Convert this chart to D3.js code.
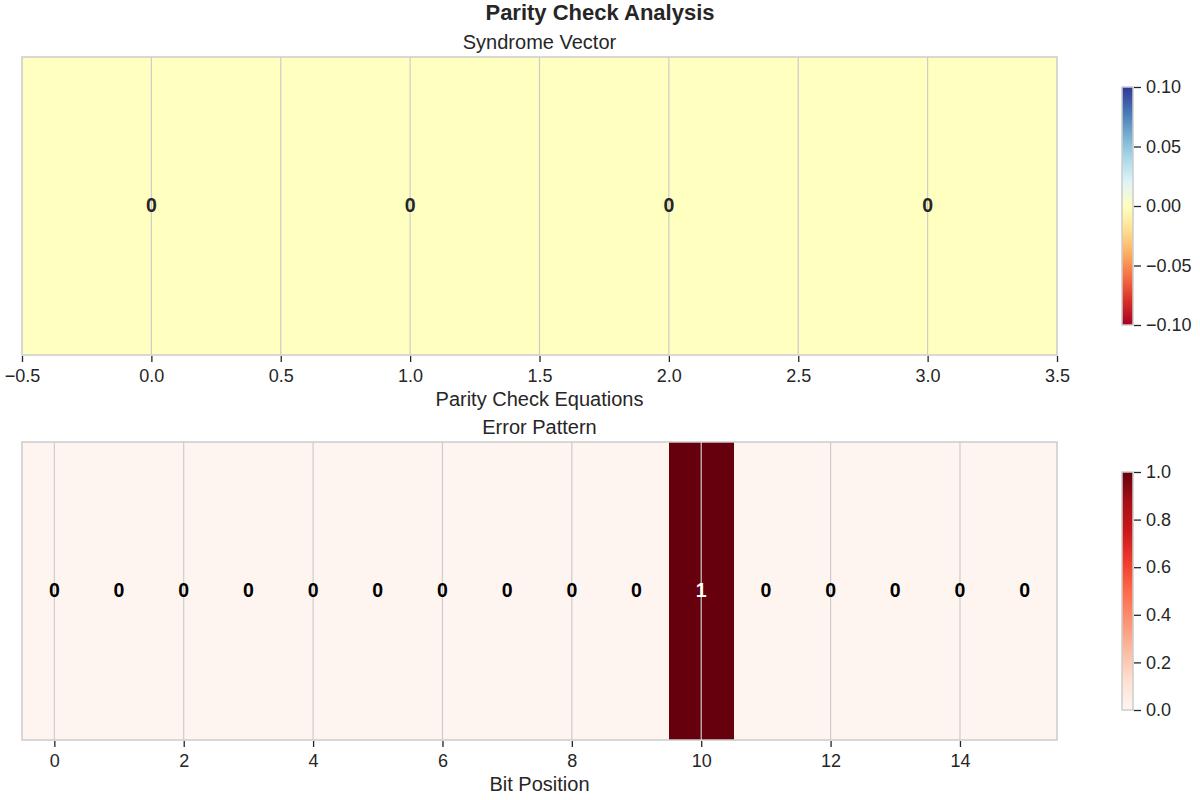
<!DOCTYPE html>
<html><head><meta charset="utf-8">
<script src="https://cdn.jsdelivr.net/npm/d3@7"></script>
<style>body{margin:0;background:#fff}svg{display:block;font-family:"Liberation Sans",Arial,sans-serif}</style>
</head><body><svg id="c" width="1200" height="800"></svg>
<script>
const syndrome = [0, 0, 0, 0];
const errorPattern = [0,0,0,0,0,0,0,0,0,0,1,0,0,0,0,0];
const topTicks = [-0.5, 0, 0.5, 1, 1.5, 2, 2.5, 3, 3.5];
const bottomTicks = [0, 2, 4, 6, 8, 10, 12, 14];
const topCbTicks = [-0.1, -0.05, 0, 0.05, 0.1];
const bottomCbTicks = [0, 0.2, 0.4, 0.6, 0.8, 1.0];

const svg = d3.select("#c");
const textCol = "#262626", gridCol = "#cccccc";
const fmtMinus = s => s.replace("-", "\u2212");
const FONT = '"Liberation Sans",Arial,sans-serif';

function cmapFrom(colors) {
  const s = d3.scaleLinear().domain(d3.range(colors.length).map(i => i / (colors.length - 1)))
    .range(colors).interpolate(d3.interpolateRgb).clamp(true);
  return t => s(t);
}
const rdylbu = cmapFrom(d3.schemeRdYlBu[11]);
const reds = cmapFrom(d3.schemeReds[9]);

svg.append("text").attr("x", 600).attr("y", 20).attr("text-anchor", "middle")
  .attr("font-size", 22).attr("font-weight", "bold").attr("fill", textCol).text("Parity Check Analysis");

function panel(cfg) {
  const {x0, x1, y0, y1, data, domain, ticks, tickFmt, gridTicks, color, title, xlabel, labelColor, cb} = cfg;
  const g = svg.append("g");
  const x = d3.scaleLinear().domain(domain).range([x0, x1]);
  g.selectAll("rect.cell").data(data).join("rect")
    .attr("x", (d, i) => x(i - 0.5)).attr("y", y0)
    .attr("width", (d, i) => x(i + 0.5) - x(i - 0.5) + 0.6).attr("height", y1 - y0)
    .attr("fill", d => color(d)).attr("shape-rendering", "crispEdges");
  g.selectAll("line.grid").data(gridTicks).join("line")
    .attr("x1", d => x(d)).attr("x2", d => x(d)).attr("y1", y0).attr("y2", y1)
    .attr("stroke", gridCol).attr("stroke-width", 1.2);
  g.selectAll("text.ann").data(data).join("text")
    .attr("x", (d, i) => x(i)).attr("y", (y0 + y1) / 2).attr("dy", "0.3em")
    .attr("text-anchor", "middle").attr("font-size", 19.5).attr("font-weight", "bold")
    .attr("fill", d => labelColor(d)).text(d => d);
  g.append("rect").attr("x", x0).attr("y", y0).attr("width", x1 - x0).attr("height", y1 - y0)
    .attr("fill", "none").attr("stroke", gridCol).attr("stroke-width", 1.5);
  const ax = g.append("g").attr("transform", `translate(0,${y1 + 1})`)
    .call(d3.axisBottom(x).tickValues(ticks).tickFormat(tickFmt).tickSize(6).tickPadding(7));
  ax.select(".domain").remove();
  ax.selectAll(".tick line").attr("stroke", textCol).attr("stroke-width", 1.3);
  ax.selectAll(".tick text").attr("fill", textCol).attr("font-size", 18).attr("font-family", FONT);
  g.append("text").attr("x", (x0 + x1) / 2).attr("y", y0 - 8).attr("text-anchor", "middle")
    .attr("font-size", 20).attr("fill", textCol).text(title);
  g.append("text").attr("x", (x0 + x1) / 2).attr("y", y1 + 51).attr("text-anchor", "middle")
    .attr("font-size", 20).attr("fill", textCol).text(xlabel);
  const {cx, cw, cy0, cy1, cdomain, cticks, cfmt, cinterp} = cb;
  const id = "grad" + Math.round(cy0);
  const grad = svg.append("defs").append("linearGradient").attr("id", id)
    .attr("x1", 0).attr("y1", 1).attr("x2", 0).attr("y2", 0);
  d3.range(0, 1.0001, 0.025).forEach(t => grad.append("stop").attr("offset", t).attr("stop-color", cinterp(t)));
  g.append("rect").attr("x", cx).attr("y", cy0).attr("width", cw).attr("height", cy1 - cy0)
    .attr("fill", `url(#${id})`).attr("stroke", gridCol).attr("stroke-width", 1.5);
  const cyS = d3.scaleLinear().domain(cdomain).range([cy1, cy0]);
  const cax = g.append("g").attr("transform", `translate(${cx + cw + 1},0)`)
    .call(d3.axisRight(cyS).tickValues(cticks).tickFormat(cfmt).tickSize(7).tickPadding(5));
  cax.select(".domain").remove();
  cax.selectAll(".tick line").attr("stroke", textCol).attr("stroke-width", 1.3);
  cax.selectAll(".tick text").attr("fill", textCol).attr("font-size", 18).attr("font-family", FONT);
}

panel({
  x0: 22, x1: 1057, y0: 57, y1: 355, data: syndrome, domain: [-0.5, 3.5],
  ticks: topTicks, tickFmt: d => fmtMinus(d3.format(".1f")(d)), gridTicks: topTicks.slice(1, -1),
  color: v => rdylbu((v + 0.1) / 0.2), title: "Syndrome Vector", xlabel: "Parity Check Equations",
  labelColor: () => textCol,
  cb: {cx: 1122, cw: 11, cy0: 87, cy1: 325, cdomain: [-0.1, 0.1], cticks: topCbTicks,
       cfmt: d => fmtMinus(d3.format(".2f")(d)), cinterp: rdylbu}
});
panel({
  x0: 22, x1: 1057, y0: 442, y1: 740, data: errorPattern, domain: [-0.5, 15.5],
  ticks: bottomTicks, tickFmt: d3.format("d"), gridTicks: bottomTicks,
  color: v => reds(v), title: "Error Pattern", xlabel: "Bit Position",
  labelColor: v => v > 0.5 ? "#ffffff" : "#000000",
  cb: {cx: 1122, cw: 11, cy0: 472, cy1: 710, cdomain: [0, 1], cticks: bottomCbTicks,
       cfmt: d3.format(".1f"), cinterp: reds}
});
</script></body></html>
